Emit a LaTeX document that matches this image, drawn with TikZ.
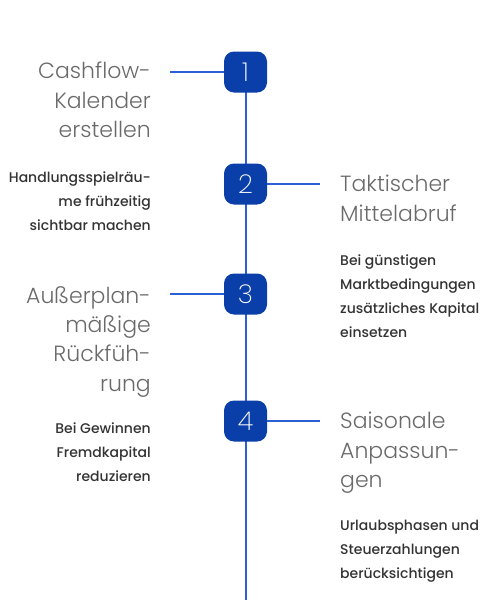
\documentclass[tikz,border=0pt]{standalone}
\usepackage{fontspec}
\setmainfont{Poppins}
\newfontfamily\titlefont{Poppins Light}
\newfontfamily\numfont{Poppins ExtraLight}
\newfontfamily\bodyfont{Poppins Medium}
\definecolor{linecol}{HTML}{2B5FD6}
\definecolor{boxcol}{HTML}{0A3EA8}
\definecolor{titlecol}{HTML}{6A6A6A}
\definecolor{bodycol}{HTML}{333333}
\begin{document}
\begin{tikzpicture}[x=1pt,y=-1pt,
  numbox/.style={fill=boxcol,rounded corners=10pt,minimum width=43pt,minimum height=41pt,inner sep=0pt,text=white,font=\numfont\fontsize{26}{26}\selectfont},
  conn/.style={draw=linecol,line width=2pt},
  ltitle/.style={anchor=north east,inner sep=0pt,align=right,text=titlecol,font=\titlefont\fontsize{22}{29.3}\selectfont},
  rtitle/.style={anchor=north west,inner sep=0pt,align=left,text=titlecol,font=\titlefont\fontsize{22}{29.3}\selectfont},
  lbody/.style={anchor=north east,inner sep=0pt,align=right,text=bodycol,font=\bodyfont\fontsize{14}{24}\selectfont},
  rbody/.style={anchor=north west,inner sep=0pt,align=left,text=bodycol,font=\bodyfont\fontsize{14}{24}\selectfont}]
\useasboundingbox (0,0) rectangle (497,600);
\coordinate (bottom) at (245.5,600);
\coordinate (c1) at (170,72);
\coordinate (c2) at (320,184);
\coordinate (c3) at (170,294);
\coordinate (c4) at (320,421);
% line
\draw[conn] (245.5,72) -- (bottom);
\node[numbox] (b1) at (245.5,72) {1};
\node[numbox] (b2) at (245.5,184) {2};
\node[numbox] (b3) at (245.5,294) {3};
\node[numbox] (b4) at (245.5,421) {4};
\draw[conn] (c1) -- (b1.west);
\draw[conn] (b2.east) -- (c2);
\draw[conn] (c3) -- (b3.west);
\draw[conn] (b4.east) -- (c4);
% titles
\node[ltitle] (t1) at (151,62) {Cashflow-\\Kalender\\erstellen};
\node[rtitle] (t2) at (340,175) {Taktischer\\Mittelabruf};
\node[ltitle] (t3) at (151,286) {Außerplan-\\mäßige\\Rückfüh-\\rung};
\node[rtitle] (t4) at (340,412) {Saisonale\\Anpassun-\\gen};
% bodies
\node[lbody] (d1) at (151,172) {Handlungsspielräu-\\me frühzeitig\\sichtbar machen};
\node[rbody] (d2) at (340,255) {Bei günstigen\\Marktbedingungen\\zusätzliches Kapital\\einsetzen};
\node[lbody] (d3) at (151,423) {Bei Gewinnen\\Fremdkapital\\reduzieren};
\node[rbody] (d4) at (340,520) {Urlaubsphasen und\\Steuerzahlungen\\berücksichtigen};
\end{tikzpicture}
\end{document}
